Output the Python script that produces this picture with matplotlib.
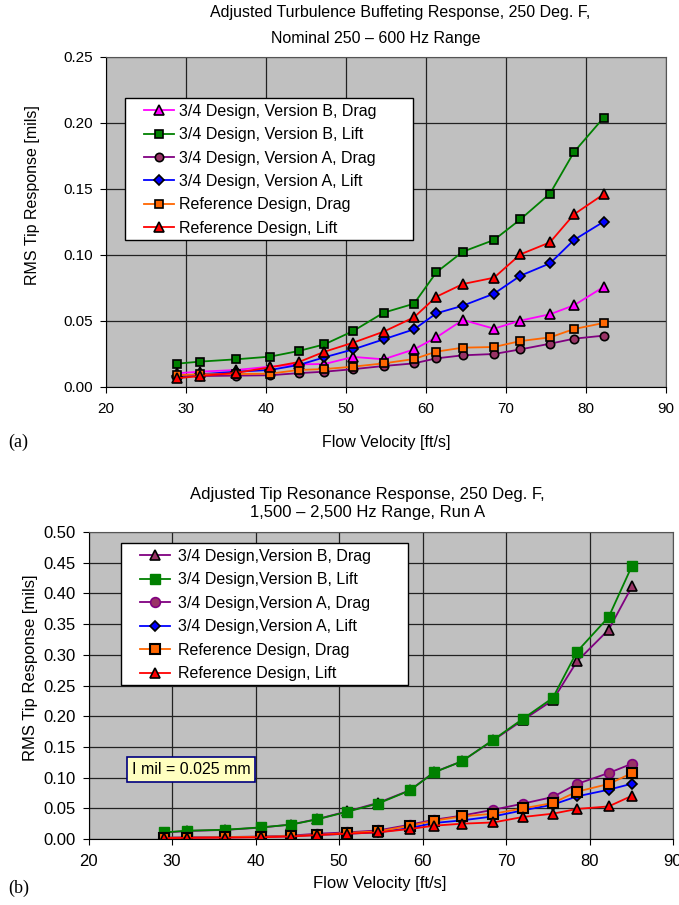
import matplotlib.pyplot as plt
from matplotlib.patches import Rectangle

plt.rcParams['font.family'] = ['Liberation Sans', 'DejaVu Sans']

# (a) turbulence buffeting response, 250 - 600 Hz
vel_a = [28.9, 31.7, 36.3, 40.5, 44.1, 47.3, 50.9, 54.7, 58.5, 61.3, 64.6, 68.5, 71.8, 75.5, 78.5, 82.2]
b_drag_a = [0.0104, 0.0116, 0.0129, 0.0154, 0.0172, 0.0174, 0.0228, 0.0210, 0.0285, 0.0376, 0.0508, 0.0442, 0.0503, 0.0551, 0.0619, 0.0758]
b_lift_a = [0.0177, 0.0192, 0.0210, 0.0230, 0.0273, 0.0323, 0.0424, 0.0563, 0.0631, 0.0869, 0.1025, 0.1114, 0.1270, 0.1465, 0.1780, 0.2040]
a_drag_a = [0.0078, 0.0083, 0.0086, 0.0089, 0.0105, 0.0116, 0.0135, 0.0159, 0.0179, 0.0217, 0.0240, 0.0250, 0.0285, 0.0328, 0.0366, 0.0389]
a_lift_a = [0.0083, 0.0096, 0.0116, 0.0129, 0.0167, 0.0225, 0.0285, 0.0361, 0.0437, 0.0558, 0.0616, 0.0707, 0.0843, 0.0937, 0.1114, 0.1252]
ref_drag_a = [0.0089, 0.0096, 0.0098, 0.0101, 0.0129, 0.0136, 0.0154, 0.0179, 0.0212, 0.0268, 0.0298, 0.0303, 0.0348, 0.0376, 0.0439, 0.0485]
ref_lift_a = [0.0066, 0.0083, 0.0108, 0.0149, 0.0189, 0.0267, 0.0336, 0.0419, 0.0528, 0.0684, 0.0780, 0.0828, 0.1005, 0.1096, 0.1308, 0.1460]

# (b) tip resonance response, 1500 - 2500 Hz
vel_b = [29.1, 31.8, 36.4, 40.6, 44.2, 47.4, 51.0, 54.7, 58.5, 61.4, 64.7, 68.5, 72.0, 75.6, 78.5, 82.3, 85.1]
b_drag_b = [0.0105, 0.0130, 0.0148, 0.0185, 0.0235, 0.0325, 0.0450, 0.0590, 0.0795, 0.1090, 0.1265, 0.1610, 0.1935, 0.2260, 0.2893, 0.3410, 0.4115]
b_lift_b = [0.0108, 0.0135, 0.0151, 0.0189, 0.0233, 0.0320, 0.0445, 0.0578, 0.0792, 0.1085, 0.1264, 0.1618, 0.1955, 0.2297, 0.3051, 0.3616, 0.4452]
a_drag_b = [0.0022, 0.0026, 0.0032, 0.0040, 0.0055, 0.0086, 0.0108, 0.0140, 0.0233, 0.0314, 0.0380, 0.0477, 0.0575, 0.0684, 0.0896, 0.1075, 0.1227]
a_lift_b = [0.0018, 0.0022, 0.0027, 0.0033, 0.0046, 0.0065, 0.0086, 0.0108, 0.0179, 0.0261, 0.0303, 0.0368, 0.0466, 0.0559, 0.0694, 0.0803, 0.0901]
ref_drag_b = [0.0020, 0.0024, 0.0030, 0.0036, 0.0050, 0.0065, 0.0098, 0.0124, 0.0217, 0.0298, 0.0368, 0.0412, 0.0498, 0.0586, 0.0771, 0.0896, 0.1075]
ref_lift_b = [0.0015, 0.0018, 0.0022, 0.0028, 0.0040, 0.0065, 0.0086, 0.0108, 0.0163, 0.0217, 0.0249, 0.0270, 0.0358, 0.0412, 0.0489, 0.0531, 0.0705]

labels_a = ["3/4 Design, Version B, Drag", "3/4 Design, Version B, Lift",
            "3/4 Design, Version A, Drag", "3/4 Design, Version A, Lift",
            "Reference Design, Drag", "Reference Design, Lift"]
labels_b = ["3/4 Design,Version B, Drag", "3/4 Design,Version B, Lift",
            "3/4 Design,Version A, Drag", "3/4 Design,Version A, Lift",
            "Reference Design, Drag", "Reference Design, Lift"]

W, H = 679, 905
fig = plt.figure(figsize=(W / 100, H / 100), dpi=100)


def fx(px):
    return px / W


def fy(py):
    return 1 - py / H


def style_axes(ax, ymax, fs):
    ax.set_facecolor('#c0c0c0')
    ax.set_xlim(20, 90)
    ax.set_ylim(0, ymax)
    ax.set_xticks(range(20, 91, 10))
    ax.set_yticks([i * 0.05 for i in range(int(round(ymax / 0.05)) + 1)])
    ax.yaxis.set_major_formatter(plt.FormatStrFormatter('%.2f'))
    ax.grid(True, color='#222222', lw=0.9)
    ax.set_axisbelow(True)
    for s in ['top', 'right']:
        ax.spines[s].set_color('#555555')
    for s in ['left', 'bottom']:
        ax.spines[s].set_color('black')
    ax.tick_params(direction='out', length=4, width=0.8, labelsize=fs, pad=5)
    ax.tick_params(axis='x', pad=7)


# ---------- (a) ----------
ax1 = fig.add_axes([fx(106), fy(387), fx(666) - fx(106), fy(57) - fy(387)])
style_axes(ax1, 0.25, 11)
ms = 5.5
ax1.plot(vel_a, b_drag_a, color='#ff00ff', lw=1.3, marker='^', ms=ms + 1, mfc='#ff00ff', mec='black', mew=1.2, label=labels_a[0])
ax1.plot(vel_a, b_lift_a, color='#008000', lw=1.3, marker='s', ms=ms, mfc='#008000', mec='black', mew=1.2, label=labels_a[1])
ax1.plot(vel_a, a_drag_a, color='#800080', lw=1.3, marker='o', ms=ms + 0.5, mfc='#993366', mec='black', mew=1.2, label=labels_a[2])
ax1.plot(vel_a, a_lift_a, color='#0000ff', lw=1.3, marker='D', ms=ms - 0.8, mfc='#0000ff', mec='black', mew=1.2, label=labels_a[3])
ax1.plot(vel_a, ref_drag_a, color='#ff6600', lw=1.3, marker='s', ms=ms, mfc='#ff6600', mec='black', mew=1.2, label=labels_a[4])
ax1.plot(vel_a, ref_lift_a, color='#ff0000', lw=1.3, marker='^', ms=ms + 1, mfc='#ff0000', mec='black', mew=1.2, label=labels_a[5])

ax1.add_patch(Rectangle((fx(125), fy(240)), fx(413) - fx(125), fy(98) - fy(240),
                        transform=fig.transFigure, fc='white', ec='black', lw=1, zorder=4))
ax1.legend(loc='upper left', bbox_to_anchor=(fx(144), fy(104)), bbox_transform=fig.transFigure,
           frameon=False, fontsize=11.5, borderpad=0, handlelength=1.9, handletextpad=0.3,
           labelspacing=0.52, borderaxespad=0)

fig.text(fx(400), fy(13), "Adjusted Turbulence Buffeting Response, 250 Deg. F,", ha='center', va='center', fontsize=11.5)
fig.text(fx(376), fy(39), "Nominal 250 \u2013 600 Hz Range", ha='center', va='center', fontsize=11.5)
fig.text(fx(33), fy(195), "RMS Tip Response [mils]", rotation=90, ha='center', va='center', fontsize=11.5)
fig.text(fx(386), fy(442), "Flow Velocity [ft/s]", ha='center', va='center', fontsize=11.5)
fig.text(fx(8), fy(442), "(a)", ha='left', va='center', fontsize=13, family='Liberation Serif')

# ---------- (b) ----------
ax2 = fig.add_axes([fx(88.5), fy(839), fx(673) - fx(88.5), fy(532) - fy(839)])
style_axes(ax2, 0.50, 12)
ms = 7
ax2.plot(vel_b, b_drag_b, color='#800080', lw=1.3, marker='^', ms=ms, mfc='#993366', mec='black', mew=1.2, label=labels_b[0])
ax2.plot(vel_b, b_lift_b, color='#008000', lw=1.3, marker='s', ms=ms, mfc='#008000', mec='#008000', mew=1.0, label=labels_b[1])
ax2.plot(vel_b, a_drag_b, color='#800080', lw=1.3, marker='o', ms=ms, mfc='#993366', mec='#800080', mew=1.2, label=labels_b[2])
ax2.plot(vel_b, a_lift_b, color='#0000ff', lw=1.3, marker='D', ms=ms - 2, mfc='#0000ff', mec='black', mew=1.2, label=labels_b[3])
ax2.plot(vel_b, ref_drag_b, color='#ff6600', lw=1.3, marker='s', ms=ms - 0.5, mfc='#ff6600', mec='black', mew=1.5, label=labels_b[4])
ax2.plot(vel_b, ref_lift_b, color='#ff0000', lw=1.3, marker='^', ms=ms, mfc='#ff0000', mec='black', mew=1.2, label=labels_b[5])

ax2.add_patch(Rectangle((fx(121), fy(685)), fx(408) - fx(121), fy(543) - fy(685),
                        transform=fig.transFigure, fc='white', ec='black', lw=1, zorder=4))
ax2.legend(loc='upper left', bbox_to_anchor=(fx(140), fy(549)), bbox_transform=fig.transFigure,
           frameon=False, fontsize=11.5, borderpad=0, handlelength=1.9, handletextpad=0.5,
           labelspacing=0.53, borderaxespad=0)

ax2.text(0.1755, 0.2257, "I mil = 0.025 mm", transform=ax2.transAxes, ha='center', va='center',
         fontsize=11.5, zorder=6,
         bbox=dict(boxstyle='square,pad=0.3', fc='#ffffc0', ec='#000080', lw=1.2))

fig.text(fx(367), fy(494), "Adjusted Tip Resonance Response, 250 Deg. F,", ha='center', va='center', fontsize=12)
fig.text(fx(368), fy(513), "1,500 \u2013 2,500 Hz Range, Run A", ha='center', va='center', fontsize=12)
fig.text(fx(31), fy(668), "RMS Tip Response [mils]", rotation=90, ha='center', va='center', fontsize=12)
fig.text(fx(380), fy(883), "Flow Velocity [ft/s]", ha='center', va='center', fontsize=12)
fig.text(fx(8), fy(888), "(b)", ha='left', va='center', fontsize=13, family='Liberation Serif')

fig.savefig('out.png', dpi=100)
